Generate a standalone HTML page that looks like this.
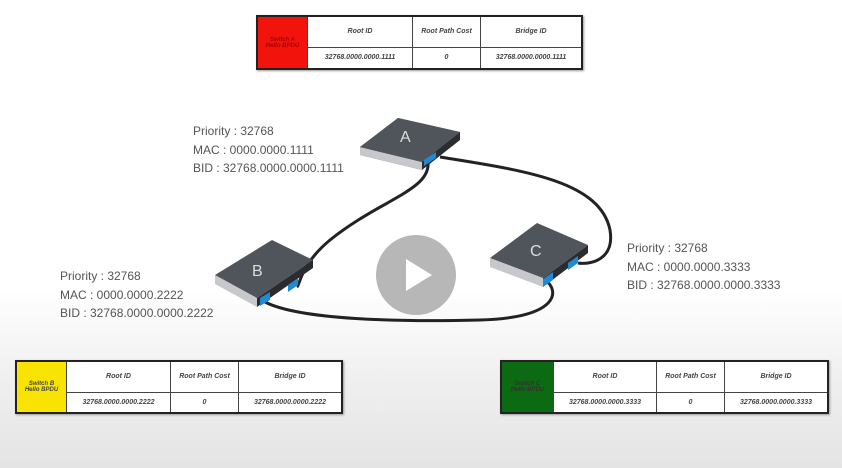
<!DOCTYPE html>
<html><head><meta charset="utf-8"><style>
html,body{margin:0;padding:0}
body{width:842px;height:468px;overflow:hidden;background:linear-gradient(#fff 0,#fff 62%,#f0f0f0 80%,#e4e4e4 100%);position:relative;font-family:"Liberation Sans",sans-serif}
table{position:absolute;border-collapse:collapse;border:2px solid #222;box-shadow:1px 1px 2px #999;background:#fff}
td{border:1px solid #444;font-size:7px;font-style:italic;font-weight:bold;color:#444;text-align:center;padding:0}
.lbl{position:absolute;font-size:12px;color:#555;line-height:18.5px}
</style></head><body>
<table style="left:256px;top:15px;width:327px;height:55px">
<tr style="height:31px"><td rowspan="2" style="width:49px;background:#f2140c;color:#a00;font-size:6px">Switch A<br>Hello BPDU</td><td style="width:104px">Root ID</td><td style="width:67px">Root Path Cost</td><td>Bridge ID</td></tr>
<tr><td>32768.0000.0000.1111</td><td>0</td><td>32768.0000.0000.1111</td></tr></table>
<table style="left:15px;top:360px;width:328px;height:54px">
<tr style="height:31px"><td rowspan="2" style="width:49px;background:#f8e400;color:#444;font-size:6px">Switch B<br>Hello BPDU</td><td style="width:103px">Root ID</td><td style="width:67px">Root Path Cost</td><td>Bridge ID</td></tr>
<tr><td>32768.0000.0000.2222</td><td>0</td><td>32768.0000.0000.2222</td></tr></table>
<table style="left:500px;top:360px;width:329px;height:54px">
<tr style="height:31px"><td rowspan="2" style="width:51px;background:#0c6a12;color:#333;font-size:6px">Switch C<br>Hello BPDU</td><td style="width:102px">Root ID</td><td style="width:67px">Root Path Cost</td><td>Bridge ID</td></tr>
<tr><td>32768.0000.0000.3333</td><td>0</td><td>32768.0000.0000.3333</td></tr></table>
<div class="lbl" style="left:193px;top:122px">Priority : 32768<br>MAC : 0000.0000.1111<br>BID : 32768.0000.0000.1111</div>
<div class="lbl" style="left:60px;top:267px">Priority : 32768<br>MAC : 0000.0000.2222<br>BID : 32768.0000.0000.2222</div>
<div class="lbl" style="left:627px;top:239px">Priority : 32768<br>MAC : 0000.0000.3333<br>BID : 32768.0000.0000.3333</div>
<svg width="842" height="468" style="position:absolute;left:0;top:0">
<g fill="none" stroke="#222" stroke-width="3">
<path d="M428 163 C430 190 380 200 330 240 C300 265 300 285 297 287"/>
<path d="M440 157 C520 170 600 180 610 230 C615 260 590 265 578 263"/>
<path d="M265 302 C300 320 400 322 480 320 C560 318 560 290 545 280"/>
</g>
<g>
<polygon points="360,147 398,118 460,132 422,162 422,170 360,155" fill="#4a4d53"/>
<polygon points="360,147 422,162 422,170 360,155" fill="#c8c8cc"/>
<polygon points="422,162 460,132 460,140 422,170" fill="#2a2c30"/>
<polygon points="360,147 398,118 460,132 422,162" fill="#50545b"/>
<text x="400" y="142" font-size="16" fill="#ddd" font-family="Liberation Sans">A</text>
<polygon points="424,160 436,152 436,158 424,166" fill="#1e8ad6"/>

<polygon points="215,275 257,298 257,307 215,284" fill="#c8c8cc"/>
<polygon points="257,298 313,260 313,268 257,307" fill="#2a2c30"/>
<polygon points="215,275 272,240 313,260 257,298" fill="#50545b"/>
<text x="252" y="276" font-size="16" fill="#ddd" font-family="Liberation Sans">B</text>
<polygon points="260,298 270,292 270,300 260,306" fill="#1e8ad6"/>
<polygon points="288,285 298,278 298,285 288,292" fill="#1e8ad6"/>

<polygon points="490,258 543,278 543,287 490,267" fill="#c8c8cc"/>
<polygon points="543,278 588,245 588,253 543,287" fill="#2a2c30"/>
<polygon points="490,258 537,223 588,245 543,278" fill="#50545b"/>
<text x="530" y="256" font-size="16" fill="#ddd" font-family="Liberation Sans">C</text>
<polygon points="543,279 553,272 553,280 543,287" fill="#1e8ad6"/>
<polygon points="568,263 578,256 578,263 568,270" fill="#1e8ad6"/>
</g>
<circle cx="416" cy="275" r="40" fill="#aaa" opacity="0.85"/>
<polygon points="406,259 406,291 432,275" fill="#fff"/>
</svg>
</body></html>
